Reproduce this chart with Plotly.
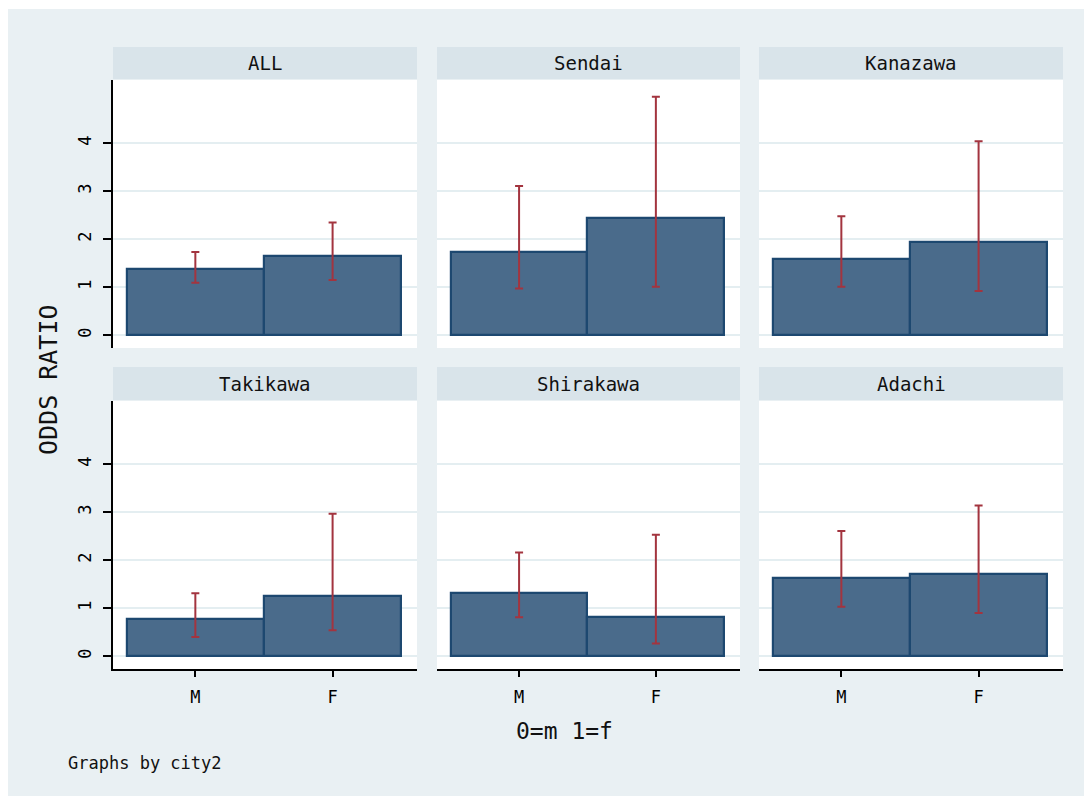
import plotly.graph_objects as go

# ---- data ----
cities = ["ALL", "Sendai", "Kanazawa", "Takikawa", "Shirakawa", "Adachi"]
sex_labels = ["M", "F"]
sex_codes = [0, 1]
or_m = [1.37, 1.73, 1.59, 0.77, 1.31, 1.62]
or_f = [1.64, 2.44, 1.95, 1.26, 0.81, 1.71]
lo_m = [1.09, 0.97, 1.01, 0.40, 0.81, 1.03]
hi_m = [1.73, 3.11, 2.48, 1.31, 2.16, 2.61]
lo_f = [1.15, 1.01, 0.92, 0.54, 0.26, 0.90]
hi_f = [2.35, 4.97, 4.04, 2.97, 2.53, 3.14]
y_ticks = [0, 1, 2, 3, 4]
ref_value = 1

# ---- style ----
W, H = 1092, 796
OFF = 8  # page body margin offset
FONT = "DejaVu Sans Mono"
BG = "#e9f0f3"
STRIP = "#d9e4ea"
BAR_FILL = "#4a6b8b"
BAR_LINE = "#1d4870"
ERR = "#a3343f"
REF = "#d3214b"
GRID = "#e4eef1"

col_px = [(113, 417), (437, 740), (759, 1063)]
row_px = [(80, 348), (401, 669)]
strip_px = [(47, 79), (367, 400)]

def fx(px):
    return (px - OFF) / W

def fy(py):
    return 1 - (py - OFF) / H

fig = go.Figure()
layout = {}
shapes = [dict(type="rect", xref="paper", yref="paper", x0=fx(8), x1=1.0, y0=0, y1=fy(9),
               fillcolor=BG, line=dict(width=0), layer="below")]
annotations = []

for i, city in enumerate(cities):
    r, c = divmod(i, 3)
    k = i + 1
    xa = "x" if k == 1 else f"x{k}"
    ya = "y" if k == 1 else f"y{k}"
    xname = "xaxis" if k == 1 else f"xaxis{k}"
    yname = "yaxis" if k == 1 else f"yaxis{k}"
    vals = [or_m[i], or_f[i]]
    plus = [hi_m[i] - or_m[i], hi_f[i] - or_f[i]]
    minus = [or_m[i] - lo_m[i], or_f[i] - lo_f[i]]
    fig.add_trace(go.Bar(
        x=sex_codes, y=vals, width=1, xaxis=xa, yaxis=ya,
        marker=dict(color=BAR_FILL, line=dict(color=BAR_LINE, width=2.2)),
        error_y=dict(type="data", array=plus, arrayminus=minus, visible=True,
                     color=ERR, thickness=2, width=4),
        showlegend=False, hoverinfo="skip"))
    x0, x1 = col_px[c]
    y0, y1 = row_px[r]
    bottom = r == 1
    left = c == 0
    layout[xname] = dict(
        domain=[fx(x0), fx(x1)], anchor=ya, range=[-0.6, 1.615],
        tickvals=sex_codes, ticktext=sex_labels,
        showticklabels=bottom, ticks="outside" if bottom else "",
        ticklen=6, tickwidth=1.8, tickcolor="black",
        showline=bottom, linecolor="black", linewidth=1.8,
        showgrid=False, zeroline=False, fixedrange=True,
        tickfont=dict(family=FONT, size=17, color="black"),
        ticklabelstandoff=6,
    )
    layout[yname] = dict(
        domain=[fy(y1), fy(y0)], anchor=xa, range=[-0.27, 5.32],
        tickvals=y_ticks, showticklabels=left, ticks="outside" if left else "",
        ticklen=8, tickwidth=1.8, tickcolor="black", tickangle=-90,
        showline=left, linecolor="black", linewidth=1.8,
        showgrid=True, gridcolor=GRID, gridwidth=1.5, zeroline=False,
        fixedrange=True, tickfont=dict(family=FONT, size=17, color="black"),
        ticklabelstandoff=5,
    )
    # plot area background
    shapes.append(dict(type="rect", xref="paper", yref="paper",
                       x0=fx(x0), x1=fx(x1), y0=fy(y1), y1=fy(y0),
                       fillcolor="white", line=dict(width=0), layer="below"))
    # strip header
    s0, s1 = strip_px[r]
    shapes.append(dict(type="rect", xref="paper", yref="paper",
                       x0=fx(x0), x1=fx(x1), y0=fy(s1), y1=fy(s0),
                       fillcolor=STRIP, line=dict(width=0), layer="below"))
    annotations.append(dict(text=city, xref="paper", yref="paper",
                            x=fx((x0 + x1) / 2), y=fy((s0 + s1) / 2),
                            showarrow=False, xanchor="center", yanchor="middle",
                            font=dict(family=FONT, size=19, color="#111111")))
    # reference line at OR = 1
    shapes.append(dict(type="line", xref=f"{xa} domain", yref=ya,
                       x0=0, x1=1, y0=ref_value, y1=ref_value,
                       line=dict(color=REF, width=2), layer="below"))

annotations += [
    dict(text="ODDS RATIO", xref="paper", yref="paper", x=fx(48), y=fy(380),
         textangle=-90, showarrow=False, xanchor="center", yanchor="middle",
         font=dict(family=FONT, size=25, color="#111111")),
    dict(text="0=m 1=f", xref="paper", yref="paper", x=fx(564), y=fy(731),
         showarrow=False, xanchor="center", yanchor="middle",
         font=dict(family=FONT, size=23, color="#111111")),
    dict(text="Graphs by city2", xref="paper", yref="paper", x=fx(66), y=fy(763),
         showarrow=False, xanchor="left", yanchor="middle",
         font=dict(family=FONT, size=17, color="#111111")),
]

fig.update_layout(
    width=W, height=H, margin=dict(l=0, r=0, t=0, b=0),
    paper_bgcolor="white", plot_bgcolor="rgba(0,0,0,0)",
    bargap=0, shapes=shapes, annotations=annotations,
    **layout,
)
fig.write_html("out.html")
